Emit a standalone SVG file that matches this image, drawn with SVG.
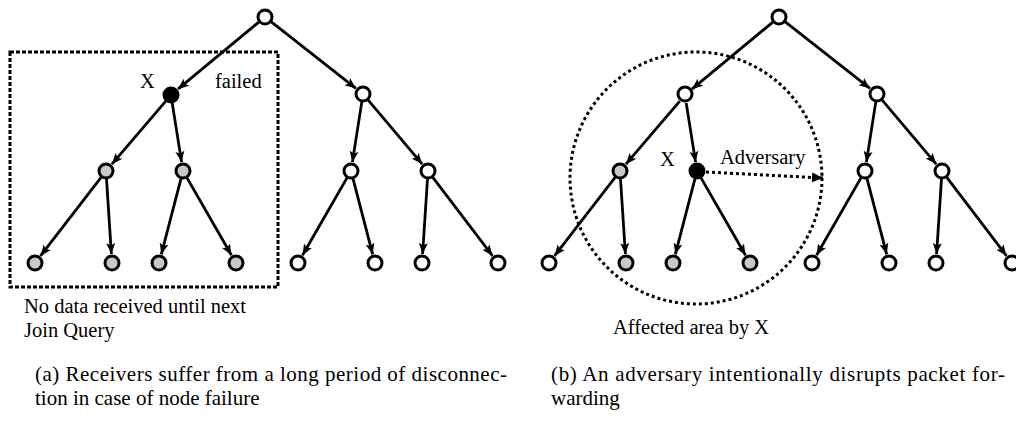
<svg xmlns="http://www.w3.org/2000/svg" width="1016" height="427" viewBox="0 0 1016 427">
  <defs>
    <marker id="arrow" markerUnits="userSpaceOnUse" markerWidth="12" markerHeight="10" refX="11" refY="5" orient="auto">
      <path d="M0,0.5 L11,5 L0,9.5 L2.5,5 Z" fill="#000"/>
    </marker>
    <marker id="arrowBig" markerUnits="userSpaceOnUse" markerWidth="12" markerHeight="12" refX="11" refY="6" orient="auto">
      <path d="M0,1 L11,6 L0,11 Z" fill="#000"/>
    </marker>
  </defs>
  <style>
    .edge { stroke: #000; stroke-width: 2.8; fill: none; marker-end: url(#arrow); }
    .node { stroke: #000; stroke-width: 3; }
    .white { fill: #fff; }
    .gray { fill: #c8c8c8; }
    .black { fill: #000; }
    .label { font-family: "Liberation Serif", "Times New Roman", serif; font-size: 20.5px; fill: #000; }
    .caption { font-family: "Liberation Serif", "Times New Roman", serif; font-size: 21px; fill: #000; }
    .region { fill: none; stroke: #000; stroke-width: 3; }
  </style>

  <!-- panel (a): node failure -->
  <rect id="failedArea" class="region" x="10" y="52" width="268" height="235" stroke-dasharray="4 2"/>

  <g id="connectors-a">
    <line class="edge" x1="258.8" y1="22.1" x2="177.9" y2="89.2"/>
    <line class="edge" x1="271.3" y1="21.9" x2="355.9" y2="88.4"/>
    <line class="edge" x1="165.8" y1="101.1" x2="111.9" y2="164.2"/>
    <line class="edge" x1="172.2" y1="102.9" x2="181.6" y2="162.1"/>
    <line class="edge" x1="101.1" y1="177.3" x2="40.5" y2="255.9"/>
    <line class="edge" x1="106.5" y1="179" x2="111.4" y2="254"/>
    <line class="edge" x1="181" y1="178.7" x2="161.3" y2="254.3"/>
    <line class="edge" x1="187" y1="177.9" x2="231.5" y2="255.2"/>
    <line class="edge" x1="361.8" y1="101.9" x2="352.4" y2="162.1"/>
    <line class="edge" x1="368.2" y1="100.1" x2="422.2" y2="164.1"/>
    <line class="edge" x1="347" y1="177.9" x2="302.5" y2="255.2"/>
    <line class="edge" x1="353" y1="178.7" x2="372.7" y2="254.3"/>
    <line class="edge" x1="427.5" y1="179" x2="422.6" y2="254"/>
    <line class="edge" x1="432.8" y1="177.4" x2="492.5" y2="255.8"/>
  </g>

  <g id="a-root"><circle class="node white" cx="265" cy="17" r="7"/></g>
  <g id="a-x"><circle class="node black" cx="171" cy="95" r="7"/></g>
  <g id="a-r"><circle class="node white" cx="363" cy="94" r="7"/></g>
  <g id="a-n1"><circle class="node gray" cx="106" cy="171" r="7"/></g>
  <g id="a-n2"><circle class="node gray" cx="183" cy="171" r="7"/></g>
  <g id="a-n3"><circle class="node white" cx="351" cy="171" r="7"/></g>
  <g id="a-n4"><circle class="node white" cx="428" cy="171" r="7"/></g>
  <g id="a-l1"><circle class="node gray" cx="35" cy="263" r="7"/></g>
  <g id="a-l2"><circle class="node gray" cx="112" cy="263" r="7"/></g>
  <g id="a-l3"><circle class="node gray" cx="159" cy="263" r="7"/></g>
  <g id="a-l4"><circle class="node gray" cx="236" cy="263" r="7"/></g>
  <g id="a-l5"><circle class="node white" cx="298" cy="263" r="7"/></g>
  <g id="a-l6"><circle class="node white" cx="375" cy="263" r="7"/></g>
  <g id="a-l7"><circle class="node white" cx="422" cy="263" r="7"/></g>
  <g id="a-l8"><circle class="node white" cx="498" cy="263" r="7"/></g>

  <text class="label" x="140" y="88">X</text>
  <text class="label" x="215" y="88">failed</text>
  <text class="label" x="24" y="313">No data received until next</text>
  <text class="label" x="24" y="337">Join Query</text>
  <text class="caption" x="35" y="381" textLength="472" lengthAdjust="spacing">(a) Receivers suffer from a long period of disconnec-</text>
  <text class="caption" x="35" y="405">tion in case of node failure</text>

  <!-- panel (b): adversary -->
  <circle id="affectedArea" class="region" cx="696" cy="178" r="126" stroke-dasharray="3 3"/>

  <g id="connectors-b">
    <line class="edge" x1="772.8" y1="22.1" x2="691.9" y2="89.2"/>
    <line class="edge" x1="785.3" y1="21.9" x2="869.9" y2="88.4"/>
    <line class="edge" x1="679.8" y1="101.1" x2="625.9" y2="164.2"/>
    <line class="edge" x1="686.2" y1="102.9" x2="695.6" y2="162.1"/>
    <line class="edge" x1="615.1" y1="177.3" x2="554.5" y2="255.9"/>
    <line class="edge" x1="620.5" y1="179" x2="625.4" y2="254"/>
    <line class="edge" x1="695" y1="178.7" x2="675.3" y2="254.3"/>
    <line class="edge" x1="701" y1="177.9" x2="745.5" y2="255.2"/>
    <line class="edge" x1="875.8" y1="101.9" x2="866.4" y2="162.1"/>
    <line class="edge" x1="882.2" y1="100.1" x2="936.2" y2="164.1"/>
    <line class="edge" x1="861" y1="177.9" x2="816.5" y2="255.2"/>
    <line class="edge" x1="867" y1="178.7" x2="886.7" y2="254.3"/>
    <line class="edge" x1="941.5" y1="179" x2="936.6" y2="254"/>
    <line class="edge" x1="946.8" y1="177.4" x2="1006.5" y2="255.8"/>
    <line x1="706" y1="172" x2="823" y2="178" stroke="#000" stroke-width="3" stroke-dasharray="3 3" marker-end="url(#arrowBig)"/>
  </g>

  <g id="b-root"><circle class="node white" cx="779" cy="17" r="7"/></g>
  <g id="b-a"><circle class="node white" cx="685" cy="94" r="7"/></g>
  <g id="b-r"><circle class="node white" cx="877" cy="94" r="7"/></g>
  <g id="b-n1"><circle class="node gray" cx="620" cy="171" r="7"/></g>
  <g id="b-x"><circle class="node black" cx="697" cy="171" r="7"/></g>
  <g id="b-n3"><circle class="node white" cx="865" cy="171" r="7"/></g>
  <g id="b-n4"><circle class="node white" cx="942" cy="171" r="7"/></g>
  <g id="b-l1"><circle class="node white" cx="549" cy="263" r="7"/></g>
  <g id="b-l2"><circle class="node gray" cx="626" cy="263" r="7"/></g>
  <g id="b-l3"><circle class="node gray" cx="673" cy="263" r="7"/></g>
  <g id="b-l4"><circle class="node gray" cx="750" cy="263" r="7"/></g>
  <g id="b-l5"><circle class="node white" cx="812" cy="263" r="7"/></g>
  <g id="b-l6"><circle class="node white" cx="889" cy="263" r="7"/></g>
  <g id="b-l7"><circle class="node white" cx="936" cy="263" r="7"/></g>
  <g id="b-l8"><circle class="node white" cx="1012" cy="263" r="7"/></g>

  <text class="label" x="660" y="166">X</text>
  <text class="label" x="720" y="164">Adversary</text>
  <text class="label" x="613" y="334">Affected area by X</text>
  <text class="caption" x="551" y="381" textLength="454" lengthAdjust="spacing">(b) An adversary intentionally disrupts packet for-</text>
  <text class="caption" x="551" y="405">warding</text>
</svg>
